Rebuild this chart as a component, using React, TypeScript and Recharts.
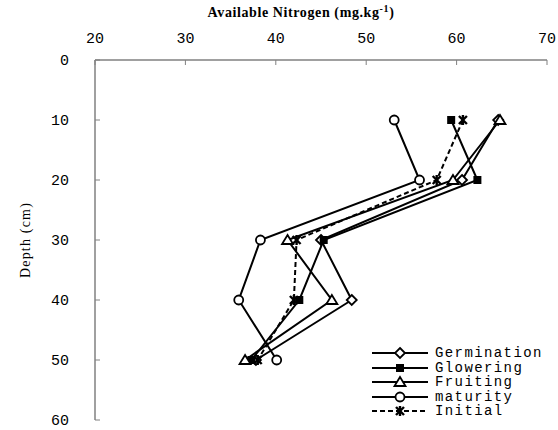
import { LineChart, Line, XAxis, YAxis } from "recharts";

const depths = [10, 20, 30, 40, 50];
const germination = [64.6, 60.6, 45.0, 48.4, 37.8];
const glowering = [59.4, 62.3, 45.3, 42.6, 37.3];
const fruiting = [64.8, 59.6, 41.3, 46.2, 36.6];
const maturity = [53.1, 55.9, 38.3, 35.9, 40.1];
const initial = [60.7, 57.8, 42.3, 42.0, 38.0];

const xTicks = [20, 30, 40, 50, 60, 70];
const yTicks = [0, 10, 20, 30, 40, 50, 60];

type Shape = "diamond" | "square" | "triangle" | "circle" | "star";

const SERIES: { name: string; values: number[]; shape: Shape; dashed?: boolean }[] = [
  { name: "Germination", values: germination, shape: "diamond" },
  { name: "Glowering", values: glowering, shape: "square" },
  { name: "Fruiting", values: fruiting, shape: "triangle" },
  { name: "maturity", values: maturity, shape: "circle" },
  { name: "Initial", values: initial, shape: "star", dashed: true },
];

const data = depths.map((depth, i) => {
  const row: Record<string, number> = { depth };
  SERIES.forEach((s) => (row[s.name] = s.values[i]));
  return row;
});

const AXIS = "#808080";
const TICK_FONT = { fontFamily: "Liberation Mono", fontSize: 15, fill: "#000" };

const Marker = ({ shape, cx, cy }: { shape: Shape; cx: number; cy: number }) => {
  const sw = 1.8;
  switch (shape) {
    case "diamond":
      return (
        <polygon
          points={`${cx},${cy - 5} ${cx + 5},${cy} ${cx},${cy + 5} ${cx - 5},${cy}`}
          fill="#fff"
          stroke="#000"
          strokeWidth={sw}
        />
      );
    case "square":
      return <rect x={cx - 4} y={cy - 4} width={8} height={8} fill="#000" />;
    case "triangle":
      return (
        <polygon
          points={`${cx},${cy - 5} ${cx + 5.5},${cy + 4} ${cx - 5.5},${cy + 4}`}
          fill="#fff"
          stroke="#000"
          strokeWidth={sw}
        />
      );
    case "circle":
      return <circle cx={cx} cy={cy} r={4.5} fill="#fff" stroke="#000" strokeWidth={sw} />;
    default:
      return (
        <g stroke="#000" strokeWidth={2.4}>
          <line x1={cx - 4} y1={cy - 4} x2={cx + 4} y2={cy + 4} />
          <line x1={cx - 4} y1={cy + 4} x2={cx + 4} y2={cy - 4} />
          <line x1={cx} y1={cy - 5} x2={cx} y2={cy + 5} />
        </g>
      );
  }
};

const XTitle = () => (
  <text x={301} y={17} textAnchor="middle" fontFamily="Liberation Serif" fontWeight="bold" fontSize={14} letterSpacing={0.6} fill="#000">
    Available Nitrogen (mg.kg
    <tspan dy={-5} fontSize={10}>-1</tspan>
    <tspan dy={5}>)</tspan>
  </text>
);

const YTitle = () => (
  <text
    x={25}
    y={240}
    textAnchor="middle"
    dominantBaseline="central"
    transform="rotate(-90 25 240)"
    fontFamily="Liberation Serif"
    fontSize={14}
    letterSpacing={1.2}
    fill="#000"
  >
    Depth (cm)
  </text>
);

const LegendBox = () => (
  <div style={{ position: "absolute", left: 372, top: 346, fontFamily: "Liberation Mono", fontSize: 14, letterSpacing: 1.4, lineHeight: "14.5px" }}>
    {SERIES.map((s) => (
      <div key={s.name} style={{ display: "flex", alignItems: "center", height: 14.5 }}>
        <svg width={60} height={14} style={{ display: "block" }}>
          <line x1={0} y1={7} x2={56} y2={7} stroke="#000" strokeWidth={2} strokeDasharray={s.dashed ? "5 3" : undefined} />
          <Marker shape={s.shape} cx={28} cy={7} />
        </svg>
        <span style={{ marginLeft: 3 }}>{s.name}</span>
      </div>
    ))}
  </div>
);

export default function App() {
  return (
    <div style={{ position: "relative", width: 558, height: 430, background: "#fff" }}>
      <style>{"body{margin:0}"}</style>
      <LineChart width={558} height={430} data={data} layout="vertical" margin={{ top: 20, right: 11, bottom: 10, left: 0 }}>
        <XAxis
          type="number"
          orientation="top"
          domain={[20, 70]}
          ticks={xTicks}
          height={40}
          axisLine={{ stroke: AXIS, strokeWidth: 1.5 }}
          tickLine={{ stroke: AXIS }}
          tickSize={-5}
          tickMargin={22}
          tick={TICK_FONT}
          label={<XTitle />}
        />
        <YAxis
          type="number"
          dataKey="depth"
          domain={[0, 60]}
          ticks={yTicks}
          width={95}
          axisLine={{ stroke: AXIS, strokeWidth: 1.5 }}
          tickLine={{ stroke: AXIS }}
          tickSize={-5}
          tickMargin={31}
          tick={TICK_FONT}
          label={<YTitle />}
        />
        {SERIES.map((s) => (
          <Line
            key={s.name}
            dataKey={s.name}
            stroke="#000"
            strokeWidth={2}
            strokeDasharray={s.dashed ? "5 3" : undefined}
            isAnimationActive={false}
            dot={(p: any) => <Marker key={`${s.name}-${p.index}`} shape={s.shape} cx={p.cx} cy={p.cy} />}
            activeDot={false}
          />
        ))}
      </LineChart>
      <LegendBox />
    </div>
  );
}
